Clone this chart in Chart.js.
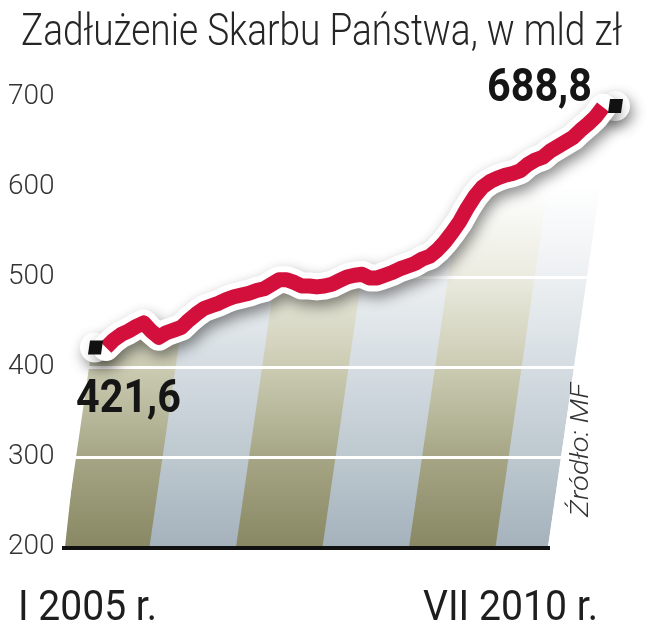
<!DOCTYPE html>
<html>
<head>
<meta charset="utf-8">
<script src="https://cdn.jsdelivr.net/npm/chart.js@4/dist/chart.umd.min.js"></script>
<style>
html,body{margin:0;padding:0;background:#fff;}
#wrap{width:661px;height:640px;position:relative;}
</style>
</head>
<body>
<div id="wrap"><canvas id="c" width="661" height="640"></canvas></div>
<script>
const chartTitle = 'Zadłużenie Skarbu Państwa, w mld zł';
const sourceText = 'Źródło: MF';
const romanMonths = ['I','II','III','IV','V','VI','VII','VIII','IX','X','XI','XII'];
const years = [2005, 2006, 2007, 2008, 2009, 2010];
const months = [];
years.forEach(y => romanMonths.forEach(m => { if (months.length < 67) months.push(m + ' ' + y); }));
const debt = [421.6, 430, 436, 440, 445, 449, 440, 433, 438, 441,
              444, 452, 459, 465, 468, 471, 475, 478, 480, 482,
              485, 487, 492, 497, 497, 494, 490, 490, 489, 490,
              492, 496, 500, 502, 503, 499, 499, 502, 505, 509,
              512, 515, 520, 523, 530, 539, 550, 562, 577, 590,
              600, 606, 610, 613, 615, 618, 625, 630, 633, 640,
              645, 650, 655, 663, 670, 678, 688.8];
const yTicks = [200, 300, 400, 500, 600, 700];
const xEndLabels = ['I 2005 r.', 'VII 2010 r.'];

const OLIVE = [[0,'rgb(136,136,100)'],[0.25,'rgb(166,166,134)'],[0.5,'rgb(204,204,180)'],[0.75,'rgb(235,235,224)'],[1,'rgb(255,255,255)']];
const BLUE  = [[0,'rgb(165,178,188)'],[0.25,'rgb(189,200,207)'],[0.5,'rgb(213,221,226)'],[0.75,'rgb(237,240,242)'],[1,'rgb(255,255,255)']];

function fmt(v){ return v.toFixed(1).replace('.', ','); }

function fitText(ctx, text, x, y, width, align){
  const w = ctx.measureText(text).width;
  const s = width / w;
  ctx.save();
  ctx.textAlign = 'left';
  const left = align === 'right' ? x - width : x;
  ctx.translate(left, y);
  ctx.scale(s, 1);
  ctx.fillText(text, 0, 0);
  ctx.restore();
}

const bgPlugin = {
  id: 'bg',
  beforeDatasetsDraw(chart){
    const {ctx, chartArea:a, scales:{x, y}} = chart;
    const base = y.getPixelForValue(yTicks[0]);
    const pts = chart.getDatasetMeta(0).data;
    const slope = 0.145;
    const bx0 = x.getPixelForValue(0) - 41;
    const bx1 = x.getPixelForValue(months.length - 1) - 55;
    const perMonth = (bx1 - bx0) / months.length;
    const yTop = a.top - 30;
    const fadeY = y.getPixelForValue(603);
    const sh = slope * (base - yTop);

    ctx.save();
    // clip below the line
    ctx.beginPath();
    ctx.moveTo(0, pts[0].y);
    pts.forEach(p => ctx.lineTo(p.x, p.y));
    ctx.lineTo(chart.width, pts[pts.length-1].y);
    ctx.lineTo(chart.width, base);
    ctx.lineTo(0, base);
    ctx.closePath();
    ctx.clip();
    // clip to slanted block
    ctx.beginPath();
    ctx.moveTo(bx0, base); ctx.lineTo(bx1, base);
    ctx.lineTo(bx1 + sh, yTop); ctx.lineTo(bx0 + sh * 0.75, yTop);
    ctx.closePath();
    ctx.clip();

    let band = 0;
    for (let k = 0; k < months.length; k += 12, band++) {
      const e = Math.min(k + 12, months.length);
      const l = bx0 + k * perMonth, r = bx0 + e * perMonth;
      const g = ctx.createLinearGradient(0, base, 0, fadeY);
      (band % 2 === 0 ? OLIVE : BLUE).forEach(([o, c]) => g.addColorStop(o, c));
      ctx.fillStyle = g;
      ctx.beginPath();
      ctx.moveTo(l - 2, base); ctx.lineTo(r, base);
      ctx.lineTo(r + sh, yTop); ctx.lineTo(l - 2 + sh, yTop);
      ctx.closePath();
      ctx.fill();
    }
    // white gridlines
    ctx.strokeStyle = '#ffffff';
    ctx.lineWidth = 3;
    yTicks.slice(1).forEach(v => {
      const py = Math.round(y.getPixelForValue(v)) + 0.5;
      ctx.beginPath(); ctx.moveTo(0, py); ctx.lineTo(chart.width, py); ctx.stroke();
    });
    ctx.restore();

    // baseline
    ctx.save();
    ctx.fillStyle = '#111';
    ctx.fillRect(bx0 - 3, base - 1, bx1 - bx0 + 5, 4);
    ctx.restore();

    // halos for end squares
    const p0 = pts[0], pl = pts[pts.length-1];
    ctx.save();
    ctx.shadowColor = 'rgba(0,0,0,0.45)';
    ctx.shadowBlur = 14; ctx.shadowOffsetX = 3; ctx.shadowOffsetY = 6;
    ctx.fillStyle = '#fff';
    [[p0.x - 11, p0.y], [pl.x + 12, pl.y - 1]].forEach(([cx, cy]) => {
      ctx.beginPath();
      ctx.arc(cx, cy, 15, 0, Math.PI * 2);
      ctx.fill();
    });
    ctx.restore();
  }
};

const shadowPlugin = {
  id: 'lineShadow',
  beforeDatasetDraw(chart, args){
    if (args.index === 1) {
      const c = chart.ctx; c.save();
      c.shadowColor = 'rgba(0,0,0,0.45)';
      c.shadowBlur = 14; c.shadowOffsetX = 3; c.shadowOffsetY = 6;
    }
  },
  afterDatasetDraw(chart, args){
    if (args.index === 1) chart.ctx.restore();
  }
};

const textPlugin = {
  id: 'texts',
  afterDatasetsDraw(chart){
    const {ctx, scales:{y}} = chart;
    const pts = chart.getDatasetMeta(0).data;
    const p0 = pts[0], pl = pts[pts.length-1];
    // squares
    ctx.save();
    ctx.fillStyle = '#111';
    [[p0.x - 11, p0.y], [pl.x + 12, pl.y - 1]].forEach(([cx, cy]) => {
      ctx.beginPath();
      ctx.moveTo(cx - 7, cy + 7); ctx.lineTo(cx + 6, cy + 7);
      ctx.lineTo(cx + 8, cy - 7); ctx.lineTo(cx - 5, cy - 7);
      ctx.closePath(); ctx.fill();
    });
    ctx.restore();

    ctx.save();
    ctx.textBaseline = 'alphabetic';
    // value labels
    ctx.fillStyle = '#151515';
    ctx.font = 'bold 46px Roboto';
    fitText(ctx, fmt(debt[0]), p0.x - 30, p0.y + 64, 105, 'left');
    fitText(ctx, fmt(debt[debt.length-1]), pl.x - 11, pl.y - 6, 105, 'right');
    // title
    ctx.fillStyle = '#262626';
    ctx.font = '300 45px Roboto';
    fitText(ctx, chartTitle, 21, 45, 601, 'left');
    // x end labels
    ctx.fillStyle = '#1e1e1e';
    ctx.font = '400 42px Roboto';
    fitText(ctx, xEndLabels[0], 18, 620, 139, 'left');
    fitText(ctx, xEndLabels[1], 598, 620, 175, 'right');
    // source
    ctx.fillStyle = '#333';
    ctx.font = 'italic 300 26px Roboto';
    ctx.translate(588, 517);
    ctx.rotate(-Math.PI / 2);
    fitText(ctx, sourceText, 0, 0, 134, 'left');
    ctx.restore();
  }
};

new Chart(document.getElementById('c').getContext('2d'), {
  type: 'line',
  data: {
    labels: months,
    datasets: [
      { data: debt, borderColor: '#d3103c', borderWidth: 15, pointRadius: 0, tension: 0,
        order: 0, borderJoinStyle: 'round', borderCapStyle: 'butt', fill: false, clip: false },
      { data: debt, borderColor: '#ffffff', borderWidth: 27, pointRadius: 0, tension: 0,
        order: 1, borderJoinStyle: 'round', borderCapStyle: 'round', fill: false, clip: false }
    ]
  },
  options: {
    responsive: false,
    animation: false,
    devicePixelRatio: 1,
    layout: { padding: { left: 8, right: 58, top: 97, bottom: 93 } },
    plugins: { legend: { display: false }, tooltip: { enabled: false }, title: { display: false } },
    scales: {
      x: { display: false },
      y: {
        min: 200, max: 700,
        afterBuildTicks: s => { s.ticks = yTicks.map(v => ({ value: v })); },
        afterFit: s => { s.width = 98; },
        ticks: { font: { family: 'Roboto', weight: '300', size: 28 }, color: '#333', crossAlign: 'far', padding: 0 },
        grid: { display: false },
        border: { display: false }
      }
    }
  },
  plugins: [bgPlugin, shadowPlugin, textPlugin]
});
</script>
</body>
</html>
